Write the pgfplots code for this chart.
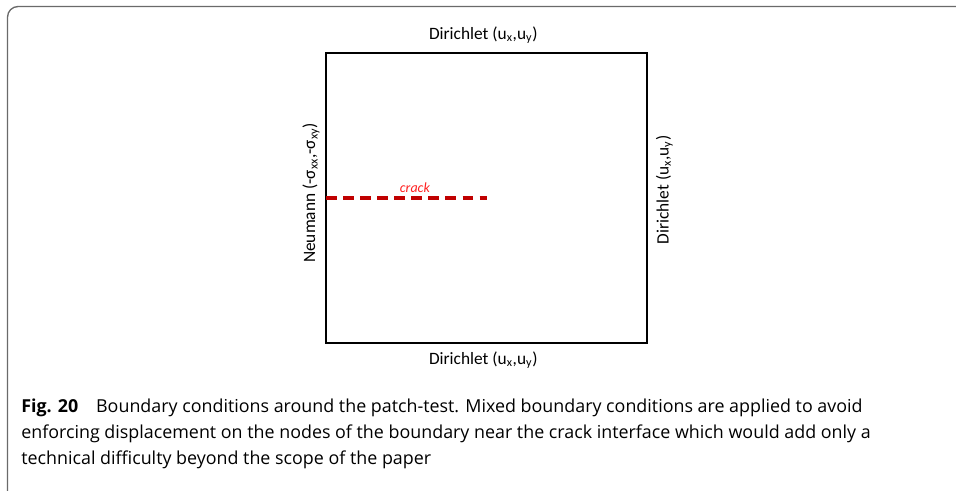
\documentclass[border=0pt]{standalone}
\usepackage{pgfplots}
\pgfplotsset{compat=1.18}
\usepackage{fontspec}
\setmainfont{Carlito}
\newfontfamily\capfont{Open Sans}
\definecolor{crackred}{HTML}{C00000}
\definecolor{labred}{HTML}{FF2020}
\definecolor{framegray}{HTML}{6A6A6A}
\begin{document}
\begin{tikzpicture}[x=0.75pt,y=0.75pt]
\path[use as bounding box] (0,0) rectangle (956,491);
% outer frame of the figure box (pixel units, y from bottom)
\draw[framegray,line width=1pt,rounded corners=8] (7.5,-4) -- (7.5,484.5) -- (960,484.5);
\begin{axis}[
  at={(326pt*0.75,148pt*0.75)}, anchor=south west,
  scale only axis, width=240.75pt, height=217.5pt,
  xmin=0, xmax=1, ymin=0, ymax=1,
  ticks=none, clip=false,
  axis line style={line width=1.5pt},
  font=\fontsize{13}{15}\selectfont,
]
\addplot[crackred, line width=2.3pt, dash pattern=on 8pt off 4.8pt] coordinates {(0,0.5) (0.5,0.5)};
\node[labred, font=\fontsize{10.5}{12}\selectfont\itshape] at (axis cs:0.277,0.535) {crack};
\node at ([yshift=13.5pt]axis description cs:0.49,1) {Dirichlet (u\textsubscript{x},u\textsubscript{y})};
\node at ([yshift=-12.75pt]axis description cs:0.49,0) {Dirichlet (u\textsubscript{x},u\textsubscript{y})};
\node[rotate=90] at ([xshift=-11.25pt]axis description cs:0,0.517) {Neumann (-σ\textsubscript{xx},-σ\textsubscript{xy})};
\node[rotate=90] at ([xshift=13pt]axis description cs:1,0.528) {Dirichlet (u\textsubscript{x},u\textsubscript{y})};
\end{axis}
\node[anchor=north west, align=left, inner sep=0pt, font=\capfont\fontsize{13.4}{19.5}\selectfont] at (21,92)
{\textbf{Fig. 20}\quad Boundary conditions around the patch-test. Mixed boundary conditions are applied to avoid\\
enforcing displacement on the nodes of the boundary near the crack interface which would add only a\\
technical difficulty beyond the scope of the paper};
\end{tikzpicture}
\end{document}
